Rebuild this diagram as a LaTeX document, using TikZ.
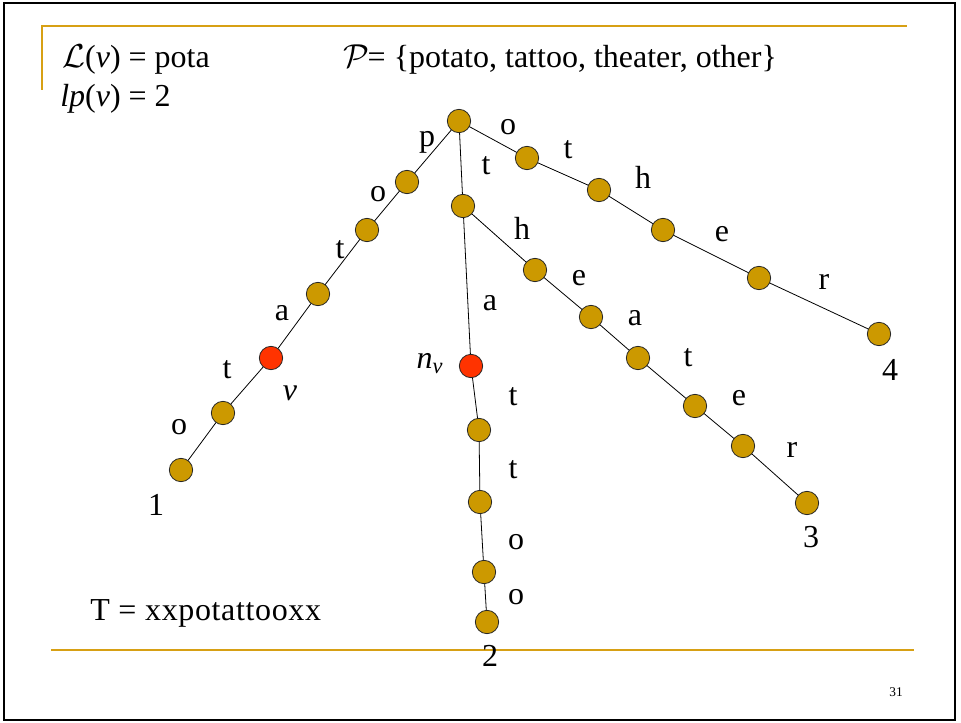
\documentclass[tikz,border=0pt]{standalone}
\usepackage{fontspec}
\setmainfont{Liberation Serif}
\definecolor{gold}{RGB}{204,153,0}
\definecolor{goldline}{RGB}{215,160,20}
\definecolor{redv}{RGB}{255,51,0}
\begin{document}
\begin{tikzpicture}[x=0.75pt,y=-0.75pt,
  gnode/.style={circle,draw=black!85,line width=0.6pt,fill=gold,minimum size=17.5pt,inner sep=0pt},
  rnode/.style={gnode,fill=redv},
  lbl/.style={font=\fontsize{24}{28}\selectfont,inner sep=0pt},
  hdr/.style={font=\fontsize{24}{28}\selectfont,inner sep=0pt,anchor=base west},
  edge/.style={line width=0.6pt,black},
  rule/.style={goldline,line width=1.6pt}]
\useasboundingbox (0,0) rectangle (961,723);
\fill[white] (0,0) rectangle (961,723);
\draw[black,line width=1.6pt] (4,3) rectangle (955,720);
% gold rules
\draw[rule] (42,90) -- (42,26) -- (907,26);
\draw[rule] (51,650) -- (914,650);
% header
\node[hdr] (L) at (62,68) {$\mathcal{L}$(\textit{v}) = pota};
\node[hdr] (lp) at (60,107) {\textit{lp}(\textit{v}) = 2};
\node[hdr] (P) at (343,68) {$\mathcal{P}$\kern-1pt= \{potato, tattoo, theater, other\}};
\node[hdr,font=\fontsize{24}{28}\selectfont\addfontfeatures{LetterSpace=2}] (T) at (90,620) {T = xxpotattooxx};
\node[font=\fontsize{10}{12}\selectfont,inner sep=0pt] (pg) at (896,692) {31};
% edges first (under nodes)
\coordinate (r) at (459,121);
\foreach \n/\x/\y in {a1/407/182,a2/367/230,a3/318/294,v/271/358,a5/223/413,a6/181/470,
  b1/463/206,nv/471/366,b3/479/430,b4/480/502,b5/484/572,b6/487/622,
  c1/535/270,c2/591/317,c3/638/358,c4/695/406,c5/743/446,c6/807/503,
  d1/527/158,d2/599/190,d3/663/230,d4/759/278,d5/879/334}
  \coordinate (\n) at (\x,\y);
\draw[edge] (r) -- (a1) -- (a2) -- (a3) -- (v) -- (a5) -- (a6);
\draw[edge] (r) -- (b1) -- (nv) -- (b3) -- (b4) -- (b5) -- (b6);
\draw[edge] (b1) -- (c1) -- (c2) -- (c3) -- (c4) -- (c5) -- (c6);
\draw[edge] (r) -- (d1) -- (d2) -- (d3) -- (d4) -- (d5);
% nodes
\foreach \n in {r,a1,a2,a3,a5,a6,b1,b3,b4,b5,b6,c1,c2,c3,c4,c5,c6,d1,d2,d3,d4,d5}
  \node[gnode] (N\n) at (\n) {};
\node[rnode] (Nv) at (v) {};
\node[rnode] (Nnv) at (nv) {};
% labels branch potato
\node[lbl] (l1) at (427,142) {p};
\node[lbl] (l2) at (378,194) {o};
\node[lbl] (l3) at (340,250) {t};
\node[lbl] (l4) at (282,313) {a};
\node[lbl] (l5) at (227,370) {t};
\node[lbl] (l6) at (179,427) {o};
\node[lbl] (lv) at (290,393) {\textit{v}};
\node[lbl] (n1) at (156,505) {1};
% branch tattoo
\node[lbl] (m1) at (486,166) {t};
\node[lbl] (m2) at (490,303) {a};
\node[lbl] (lnv) at (430,364) {\textit{n}\textsubscript{\textit{v}}};
\node[lbl] (m3) at (513,397) {t};
\node[lbl] (m4) at (513,470) {t};
\node[lbl] (m5) at (516,542) {o};
\node[lbl] (m6) at (516,597) {o};
\node[lbl] (n2) at (490,656) {2};
% branch theater
\node[lbl] (k1) at (522,228) {h};
\node[lbl] (k2) at (579,278) {e};
\node[lbl] (k3) at (635,318) {a};
\node[lbl] (k4) at (688,358) {t};
\node[lbl] (k5) at (739,398) {e};
\node[lbl] (k6) at (792,450) {r};
\node[lbl] (n3) at (811,537) {3};
% branch other
\node[lbl] (o1) at (508,127) {o};
\node[lbl] (o2) at (568,150) {t};
\node[lbl] (o3) at (643,177) {h};
\node[lbl] (o4) at (722,234) {e};
\node[lbl] (o5) at (824,282) {r};
\node[lbl] (n4) at (890,370) {4};
\end{tikzpicture}
\end{document}
